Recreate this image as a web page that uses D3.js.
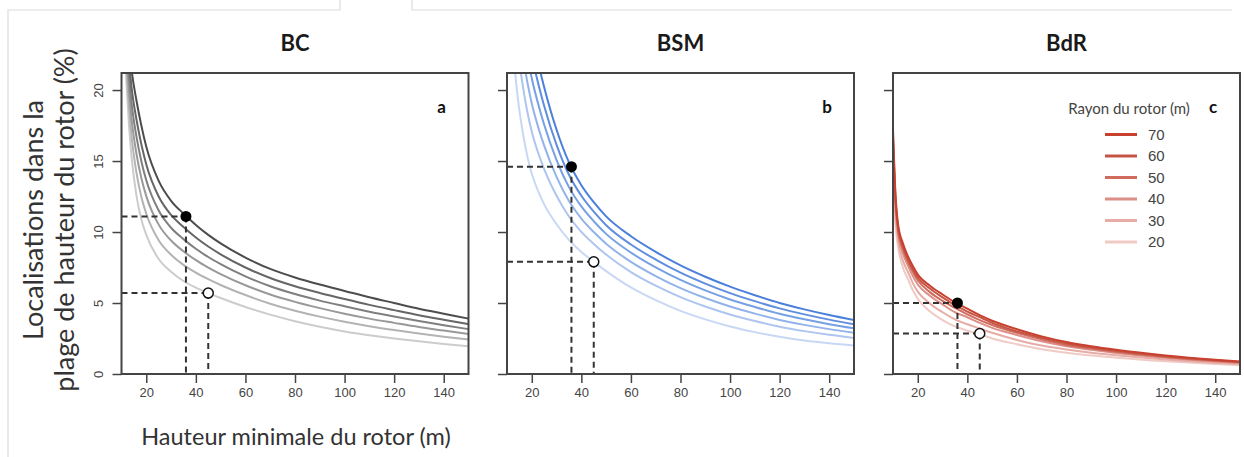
<!DOCTYPE html>
<html><head><meta charset="utf-8">
<script src="https://cdn.jsdelivr.net/npm/d3@7"></script>
<style>
html,body{margin:0;padding:0;background:#fff;}
svg{display:block;}
</style></head>
<body>
<svg id="chart" width="1244" height="457"></svg>
<script>
// ---------- data ----------
const categories = ["BC", "BSM", "BdR"];
const panelLetters = ["a", "b", "c"];
const radii = [70, 60, 50, 40, 30, 20];
const xTicks = [20, 40, 60, 80, 100, 120, 140];
const yTicks = [0, 5, 10, 15, 20];
const yTickLabels = ["0", "5", "10", "15", "20"];

const bcX   = [11, 12, 13, 14, 16, 18, 20, 25, 30, 35, 40, 45, 50, 60, 70, 80, 90, 100, 110, 120, 130, 140, 150];
const bcR70 = [27, 25, 23.2, 21.5, 19.3, 17.5, 16.0, 13.6, 12.2, 11.3, 10.5, 9.8, 9.2, 8.2, 7.4, 6.8, 6.3, 5.85, 5.4, 5.0, 4.6, 4.25, 3.9];
const bcR60 = [26.4, 24.1, 22.08, 20.28, 17.96, 16.18, 14.76, 12.5, 11.2, 10.35, 9.62, 8.98, 8.43, 7.5, 6.76, 6.18, 5.71, 5.28, 4.87, 4.5, 4.14, 3.82, 3.51];
const bcR50 = [25.86, 23.29, 21.07, 19.18, 16.75, 14.99, 13.64, 11.51, 10.3, 9.5, 8.82, 8.24, 7.74, 6.88, 6.18, 5.63, 5.17, 4.77, 4.39, 4.05, 3.73, 3.44, 3.16];
const bcR40 = [25.32, 22.48, 20.06, 18.08, 15.55, 13.8, 12.53, 10.52, 9.4, 8.64, 8.02, 7.5, 7.04, 6.25, 5.6, 5.08, 4.64, 4.25, 3.9, 3.6, 3.31, 3.06, 2.81];
const bcR30 = [24.72, 21.58, 18.94, 16.86, 14.21, 12.48, 11.29, 9.42, 8.4, 7.69, 7.14, 6.68, 6.27, 5.56, 4.95, 4.46, 4.04, 3.68, 3.37, 3.1, 2.85, 2.63, 2.43];
const bcR20 = [24, 20.5, 17.6, 15.4, 12.6, 10.9, 9.8, 8.1, 7.2, 6.55, 6.08, 5.7, 5.35, 4.72, 4.18, 3.72, 3.33, 3.0, 2.73, 2.5, 2.3, 2.12, 1.96];

const bsmX   = [12, 13, 14, 16, 18, 20, 23, 25, 30, 35, 40, 45, 50, 60, 70, 80, 90, 100, 110, 120, 130, 140, 150];
const bsmR70 = [35, 33.2, 31.5, 28.5, 26, 24, 21.6, 20.2, 17.2, 14.9, 13.3, 12.1, 11.1, 9.7, 8.6, 7.65, 6.85, 6.15, 5.55, 5.0, 4.55, 4.15, 3.8];
const bsmR60 = [33.24, 31.38, 29.66, 26.72, 24.32, 22.42, 20.18, 18.88, 16.14, 14.03, 12.55, 11.43, 10.48, 9.12, 8.06, 7.14, 6.37, 5.7, 5.13, 4.62, 4.2, 3.83, 3.51];
const bsmR50 = [31.48, 29.55, 27.82, 24.95, 22.64, 20.83, 18.75, 17.56, 15.07, 13.16, 11.8, 10.76, 9.87, 8.55, 7.51, 6.63, 5.89, 5.25, 4.72, 4.24, 3.85, 3.51, 3.22];
const bsmR40 = [29.5, 27.5, 25.75, 22.95, 20.75, 19.05, 17.15, 16.08, 13.88, 12.18, 10.95, 10.0, 9.18, 7.9, 6.9, 6.05, 5.35, 4.75, 4.25, 3.81, 3.46, 3.16, 2.9];
const bsmR30 = [27.3, 25.22, 23.45, 20.73, 18.65, 17.07, 15.37, 14.43, 12.55, 11.09, 10.01, 9.16, 8.41, 7.18, 6.22, 5.41, 4.75, 4.19, 3.73, 3.33, 3.02, 2.76, 2.54];
const bsmR20 = [24, 21.8, 20.0, 17.4, 15.5, 14.1, 12.7, 11.95, 10.55, 9.45, 8.6, 7.9, 7.25, 6.1, 5.2, 4.45, 3.85, 3.35, 2.95, 2.62, 2.36, 2.16, 2.0];

const bdrX   = [10, 11, 12, 14, 16, 18, 20, 25, 30, 35, 40, 45, 50, 60, 70, 80, 90, 100, 120, 140, 150];
const bdrR70 = [17.2, 12.7, 10.6, 9.2, 8.3, 7.6, 7.0, 6.2, 5.6, 5.05, 4.6, 4.15, 3.75, 3.15, 2.65, 2.25, 1.95, 1.7, 1.3, 1.0, 0.88];
const bdrR60 = [16.8, 12.4, 10.4, 9.0, 8.1, 7.4, 6.8, 6.0, 5.4, 4.85, 4.4, 4.0, 3.6, 3.0, 2.55, 2.15, 1.87, 1.63, 1.25, 0.96, 0.85];
const bdrR50 = [16.4, 12.15, 10.2, 8.8, 7.9, 7.2, 6.6, 5.75, 5.15, 4.65, 4.2, 3.8, 3.45, 2.9, 2.45, 2.05, 1.8, 1.56, 1.2, 0.93, 0.82];
const bdrR40 = [15.9, 11.8, 9.95, 8.5, 7.65, 6.9, 6.3, 5.5, 4.9, 4.35, 4.0, 3.6, 3.25, 2.75, 2.3, 1.95, 1.7, 1.48, 1.14, 0.88, 0.78];
const bdrR30 = [15.0, 11.15, 9.5, 8.0, 7.2, 6.4, 5.8, 4.95, 4.35, 3.85, 3.5, 3.2, 2.9, 2.4, 2.0, 1.73, 1.5, 1.32, 1.02, 0.79, 0.7];
const bdrR20 = [14.0, 10.5, 9.0, 7.5, 6.7, 5.9, 5.3, 4.4, 3.8, 3.35, 3.05, 2.8, 2.5, 2.1, 1.75, 1.5, 1.3, 1.15, 0.9, 0.7, 0.62];

const filledDotX = [36, 36, 36];
const filledDotY = [11.1, 14.6, 5.0];
const openDotX = [45, 45, 45];
const openDotY = [5.7, 7.9, 2.85];

const greyColors = ["#4d4d4d", "#666666", "#7f7f7f", "#999999", "#b3b3b3", "#cccccc"];
const blueColors = ["#4a7fdb", "#5f8edf", "#77a0e4", "#92b3ea", "#adc5ef", "#c8d8f4"];
const redColors  = ["#c8412f", "#c45444", "#d06b5e", "#dc8f86", "#e6aca5", "#f0cac5"];

const panelSeries = [
  {x: bcX,  ys: [bcR70, bcR60, bcR50, bcR40, bcR30, bcR20], colors: greyColors},
  {x: bsmX, ys: [bsmR70, bsmR60, bsmR50, bsmR40, bsmR30, bsmR20], colors: blueColors},
  {x: bdrX, ys: [bdrR70, bdrR60, bdrR50, bdrR40, bdrR30, bdrR20], colors: redColors}
];

// ---------- layout ----------
const svg = d3.select("#chart");
const panelLeft = [121.5, 507, 893];
const panelW = 347;
const plotTop = 73, plotBottom = 374;
const labelFont = "'Liberation Sans Narrow','Liberation Sans',Arial,sans-serif";
const textFont = "Lato,'Open Sans',sans-serif";

// frame decoration
const deco = svg.append("g").attr("stroke", "#dcdcdc").attr("stroke-width", 1.2).attr("fill", "none");
deco.append("path").attr("d", "M8,457 L8,10 L340,10 L340,0");
deco.append("path").attr("d", "M412,0 L412,10 L1232,10");

const y = d3.scaleLinear().domain([0, 21.2]).range([plotBottom, plotTop]);

categories.forEach((cat, i) => {
  const x = d3.scaleLinear().domain([10, 150]).range([panelLeft[i], panelLeft[i] + panelW]);
  const g = svg.append("g");
  const clipId = "clip" + i;
  svg.append("clipPath").attr("id", clipId).append("rect")
    .attr("x", panelLeft[i]).attr("y", plotTop).attr("width", panelW).attr("height", plotBottom - plotTop);

  // title
  g.append("text").attr("x", panelLeft[i] + panelW / 2).attr("y", 51)
    .attr("text-anchor", "middle").attr("font-family", textFont).attr("font-weight", 700)
    .attr("font-size", 22).attr("fill", "#1a1a1a").text(cat);

  // curves (lightest first)
  const ps = panelSeries[i];
  const line = d3.line().x(d => x(d[0])).y(d => y(d[1])).curve(d3.curveMonotoneX);
  const cg = g.append("g").attr("clip-path", `url(#${clipId})`);
  for (let k = radii.length - 1; k >= 0; k--) {
    const pts = ps.x.map((xv, j) => [xv, ps.ys[k][j]]);
    cg.append("path").attr("d", line(pts)).attr("fill", "none")
      .attr("stroke", ps.colors[k]).attr("stroke-width", 2);
  }

  // dashed guide lines
  const dg = g.append("g").attr("stroke", "#333").attr("stroke-width", 2)
    .attr("stroke-dasharray", "6,4").attr("fill", "none");
  [[filledDotX[i], filledDotY[i]], [openDotX[i], openDotY[i]]].forEach(([dx, dy]) => {
    dg.append("line").attr("x1", x(10)).attr("x2", x(dx)).attr("y1", y(dy)).attr("y2", y(dy));
    dg.append("line").attr("x1", x(dx)).attr("x2", x(dx)).attr("y1", y(dy)).attr("y2", y(0));
  });
  g.append("circle").attr("cx", x(filledDotX[i])).attr("cy", y(filledDotY[i])).attr("r", 5.5)
    .attr("fill", "#000");
  g.append("circle").attr("cx", x(openDotX[i])).attr("cy", y(openDotY[i])).attr("r", 5)
    .attr("fill", "#fff").attr("stroke", "#111").attr("stroke-width", 1.5);

  // box
  g.append("rect").attr("x", panelLeft[i]).attr("y", plotTop).attr("width", panelW).attr("height", plotBottom - plotTop)
    .attr("fill", "none").attr("stroke", "#444").attr("stroke-width", 2);

  // x axis
  const xa = g.append("g").attr("transform", `translate(0,${plotBottom})`)
    .call(d3.axisBottom(x).tickValues(xTicks).tickSize(9).tickSizeOuter(0).tickPadding(5));
  xa.select(".domain").remove();
  xa.selectAll("line").attr("stroke", "#444").attr("stroke-width", 1.5);
  xa.selectAll("text").attr("font-family", labelFont).attr("font-size", 13).attr("fill", "#444");

  // y axis
  const ya = g.append("g").attr("transform", `translate(${panelLeft[i]},0)`)
    .call(d3.axisLeft(y).tickValues(yTicks).tickSize(9).tickSizeOuter(0)
      .tickFormat((d, j) => i === 0 ? yTickLabels[j] : ""));
  ya.select(".domain").remove();
  ya.selectAll("line").attr("stroke", "#444").attr("stroke-width", 1.5);
  ya.selectAll(".tick text").each(function(d) {
    d3.select(this).attr("font-family", labelFont).attr("font-size", 13).attr("fill", "#444")
      .attr("text-anchor", "middle").attr("x", 0).attr("y", 0).attr("dy", "0.35em")
      .attr("transform", "translate(-23,0) rotate(-90)");
  });

  // panel letter
  g.append("text").attr("x", panelLeft[i] + panelW - 27).attr("y", 113)
    .attr("text-anchor", "middle").attr("font-family", textFont).attr("font-weight", 700)
    .attr("font-size", 17).attr("fill", "#111").text(panelLetters[i]);
});

// legend (panel c)
const lg = svg.append("g");
lg.append("text").attr("x", 1129).attr("y", 114).attr("text-anchor", "middle")
  .attr("font-family", textFont).attr("font-size", 15).attr("fill", "#444").text("Rayon du rotor (m)");
radii.forEach((r, k) => {
  const yy = 134.5 + k * 21.5;
  lg.append("line").attr("x1", 1105).attr("x2", 1137).attr("y1", yy).attr("y2", yy)
    .attr("stroke", redColors[k]).attr("stroke-width", 3);
  lg.append("text").attr("x", 1148).attr("y", yy).attr("dy", "0.35em")
    .attr("font-family", labelFont).attr("font-size", 15).attr("fill", "#444").text(r);
});

// axis titles
svg.append("text").attr("transform", "translate(43,220) rotate(-90)").attr("text-anchor", "middle")
  .attr("font-family", textFont).attr("font-size", 27).attr("fill", "#333").text("Localisations dans la");
svg.append("text").attr("transform", "translate(74,220) rotate(-90)").attr("text-anchor", "middle")
  .attr("font-family", textFont).attr("font-size", 27).attr("fill", "#333").text("plage de hauteur du rotor (%)");
svg.append("text").attr("x", 296).attr("y", 445).attr("text-anchor", "middle")
  .attr("font-family", textFont).attr("font-size", 23.5).attr("fill", "#333").text("Hauteur minimale du rotor (m)");
</script>
</body></html>
